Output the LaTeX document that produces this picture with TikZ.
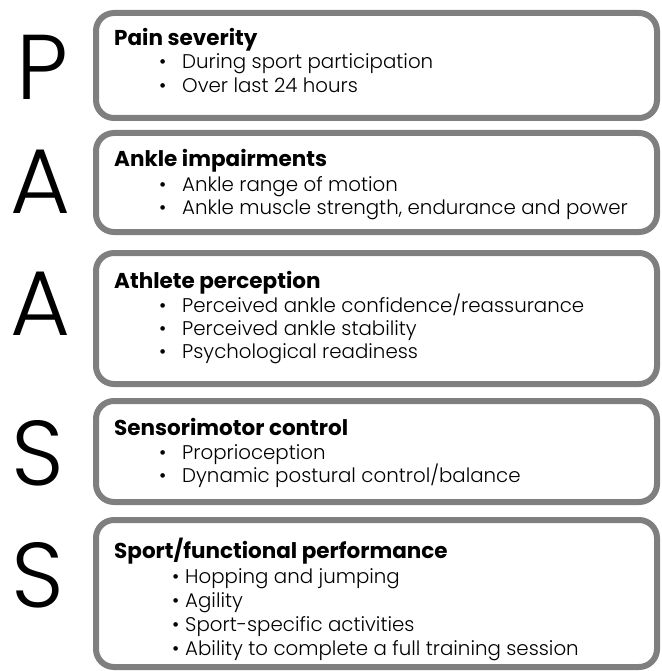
\documentclass[tikz,border=0pt]{standalone}
\usepackage{fontspec}
\setmainfont{Poppins}
\newfontfamily\lightfont{Poppins Light}
\definecolor{boxgray}{HTML}{7F7F7F}
\begin{document}
\begin{tikzpicture}[x=1pt,y=-1pt,
    box/.style={draw=boxgray, line width=6pt, rounded corners=18pt},
    letter/.style={font=\lightfont\fontsize{92}{92}\selectfont, anchor=base, inner sep=0pt},
    title/.style={font=\fontsize{21.5}{24}\selectfont\bfseries, anchor=base west, inner sep=0pt},
    item/.style={font=\lightfont\fontsize{19.8}{24}\selectfont, anchor=base west, inner sep=0pt}]
    \useasboundingbox (0,0) rectangle (661,671);
    % boxes
    \draw[box] (96,13) rectangle (657,118);
    \draw[box] (96,133) rectangle (657,232);
    \draw[box] (96,253) rectangle (657,384);
    \draw[box] (96,401) rectangle (657,502);
    \draw[box] (96,520) rectangle (657,667);
    % letters
    \node[letter] (p) at (42,100) {P};
    \node[letter] (a1) at (40,213) {A};
    \node[letter] (a2) at (40,335) {A};
    \node[letter] (s1) at (38,485) {S};
    \node[letter] (s2) at (38,607) {S};
    % pain
    \node[title] (t1) at (114,46) {Pain severity};
    \node[item] (b11) at (159,69) {\textbullet};
    \node[item] (i11) at (182,69) {During sport participation};
    \node[item] (b12) at (159,93) {\textbullet};
    \node[item] (i12) at (182,93) {Over last 24 hours};
    % ankle
    \node[title] (t2) at (114,167) {Ankle impairments};
    \node[item] (b21) at (159,191) {\textbullet};
    \node[item] (i21) at (182,191) {Ankle range of motion};
    \node[item] (b22) at (159,214) {\textbullet};
    \node[item] (i22) at (182,214) {Ankle muscle strength, endurance and power};
    % athlete
    \node[title] (t3) at (114,288) {Athlete perception};
    \node[item] (b31) at (159,312) {\textbullet};
    \node[item] (i31) at (182,312) {Perceived ankle confidence/reassurance};
    \node[item] (b32) at (159,335) {\textbullet};
    \node[item] (i32) at (182,335) {Perceived ankle stability};
    \node[item] (b33) at (159,358) {\textbullet};
    \node[item] (i33) at (182,358) {Psychological readiness};
    % sensorimotor
    \node[title] (t4) at (114,435) {Sensorimotor control};
    \node[item] (b41) at (159,459) {\textbullet};
    \node[item] (i41) at (182,459) {Proprioception};
    \node[item] (b42) at (159,482) {\textbullet};
    \node[item] (i42) at (182,482) {Dynamic postural control/balance};
    % sport
    \node[title] (t5) at (114,558) {Sport/functional performance};
    \node[item] (b51) at (172,583) {\textbullet};
    \node[item] (i51) at (185,583) {Hopping and jumping};
    \node[item] (b52) at (172,607) {\textbullet};
    \node[item] (i52) at (185,607) {Agility};
    \node[item] (b53) at (172,631) {\textbullet};
    \node[item] (i53) at (185,631) {Sport-specific activities};
    \node[item] (b54) at (172,655) {\textbullet};
    \node[item] (i54) at (185,655) {Ability to complete a full training session};
\end{tikzpicture}
\end{document}
